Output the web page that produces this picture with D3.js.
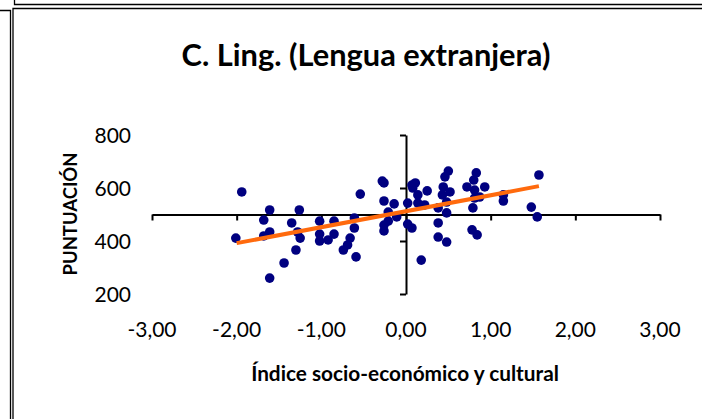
<!DOCTYPE html>
<html>
<head>
<meta charset="utf-8">
<script src="https://cdn.jsdelivr.net/npm/d3@7/dist/d3.min.js"></script>
<style>
  html, body { margin: 0; padding: 0; background: #fff; }
  svg { display: block; }
  text { font-family: Lato, "Open Sans", sans-serif; fill: #000; }
</style>
</head>
<body>
<svg id="chart" width="702" height="419"></svg>
<script>
// ---- data ----
const title = "C. Ling. (Lengua extranjera)";
const xTitle = "Índice socio-económico y cultural";
const yTitle = "PUNTUACIÓN";
const xTicks = [-3, -2, -1, 0, 1, 2, 3];
const yTicks = [200, 400, 600, 800];
const isec = [
  -1.94, -2.01, -1.61, -1.68, -1.61, -1.68, -1.61, -1.44, -1.30, -1.35,
  -1.26, -1.28, -1.25, -1.02, -1.02, -1.02, -0.92, -0.85, -0.85, -0.74,
  -0.69, -0.66, -0.61, -0.61, -0.59, -0.54, -0.28, -0.26, -0.26, -0.14,
  -0.21, -0.21, -0.26, -0.26, -0.11, 0.02, 0.02, 0.07, 0.07, 0.11,
  0.14, 0.25, 0.14, 0.22, 0.18, 0.38, 0.38, 0.48, 0.50, 0.46,
  0.44, 0.43, 0.52, 0.48, 0.38, 0.48, 0.72, 0.83, 0.80, 0.81,
  0.93, 0.87, 0.79, 0.78, 0.84, 1.15, 1.15, 1.57, 1.48, 1.55,
  0.08, 0.81
];
const puntuacion = [
  585, 411, 517, 479, 434, 419, 260, 317, 366, 468,
  517, 434, 411, 475, 426, 400, 404, 475, 426, 366,
  385, 411, 487, 449, 340, 577, 626, 619, 551, 540,
  509, 475, 460, 438, 491, 543, 464, 449, 611, 619,
  574, 589, 543, 536, 328, 468, 415, 396, 664, 642,
  604, 574, 585, 547, 525, 506, 604, 657, 630, 592,
  604, 566, 525, 442, 423, 574, 551, 649, 528, 491,
  600, 562
];
const trendX = [-2.0, 1.57];
const trendY = [392, 607];

// ---- drawing ----
const svg = d3.select("#chart");
const x = d3.scaleLinear().domain([-3, 3]).range([152, 660]);
const y = d3.scaleLinear().domain([200, 800]).range([294, 135]);
const loc = d3.formatLocale({decimal: ",", thousands: ".", grouping: [3], currency: ["", "€"], minus: "-"});
const fmt = loc.format(".2f");

// outer frame lines
const frame = svg.append("g").attr("fill", "none").attr("stroke", "#000").attr("stroke-width", 1.3);
frame.append("path").attr("d", "M14.5,0 V4.5 H702");
frame.append("path").attr("d", "M702,8.5 H13 V419");
frame.append("path").attr("d", "M0,10.5 H10.5 V419");

function fitText(sel, w) {
  const fs = parseFloat(sel.attr("font-size"));
  const len = sel.node().getComputedTextLength();
  sel.attr("font-size", fs * w / len);
}

// title
const t = svg.append("text").attr("x", 366).attr("y", 66).attr("text-anchor", "middle")
  .attr("font-weight", "bold").attr("font-size", 30).text(title);
fitText(t, 369);

// axes
const xAxis = svg.append("g").attr("transform", `translate(0,${y(500)})`)
  .call(d3.axisBottom(x).tickValues(xTicks).tickSize(6).tickSizeOuter(0).tickFormat(""));
const yAxis = svg.append("g").attr("transform", `translate(${x(0)},0)`)
  .call(d3.axisLeft(y).tickValues(yTicks).tickSize(6).tickSizeOuter(0).tickFormat(""));
[xAxis, yAxis].forEach(g => {
  g.selectAll("path.domain").attr("stroke", "#000").attr("stroke-width", 2);
  g.selectAll(".tick line").attr("stroke", "#000").attr("stroke-width", 2);
});

// tick labels
svg.append("g").selectAll("text").data(xTicks).join("text")
  .attr("x", d => x(d)).attr("y", 337).attr("text-anchor", "middle")
  .attr("font-size", 21).text(d => fmt(d));
svg.append("g").selectAll("text").data(yTicks).join("text")
  .attr("x", 131).attr("y", d => y(d)).attr("dy", "0.36em").attr("text-anchor", "end")
  .attr("font-size", 21).text(d => d);

// axis titles
const xt = svg.append("text").attr("x", 405).attr("y", 381).attr("text-anchor", "middle")
  .attr("font-weight", "bold").attr("font-size", 20).text(xTitle);
fitText(xt, 308);
const yt = svg.append("text").attr("transform", "translate(77,214) rotate(-90)")
  .attr("text-anchor", "middle").attr("font-weight", "bold").attr("font-size", 20).text(yTitle);
fitText(yt, 123);

// points
const pts = isec.map((v, i) => ({x: v, y: puntuacion[i]}));
svg.append("g").selectAll("circle").data(pts).join("circle")
  .attr("cx", d => x(d.x)).attr("cy", d => y(d.y)).attr("r", 4.8)
  .attr("fill", "#000080");

// trend line
svg.append("line")
  .attr("x1", x(trendX[0])).attr("y1", y(trendY[0]))
  .attr("x2", x(trendX[1])).attr("y2", y(trendY[1]))
  .attr("stroke", "#ff6a0d").attr("stroke-width", 4);
</script>
</body>
</html>
